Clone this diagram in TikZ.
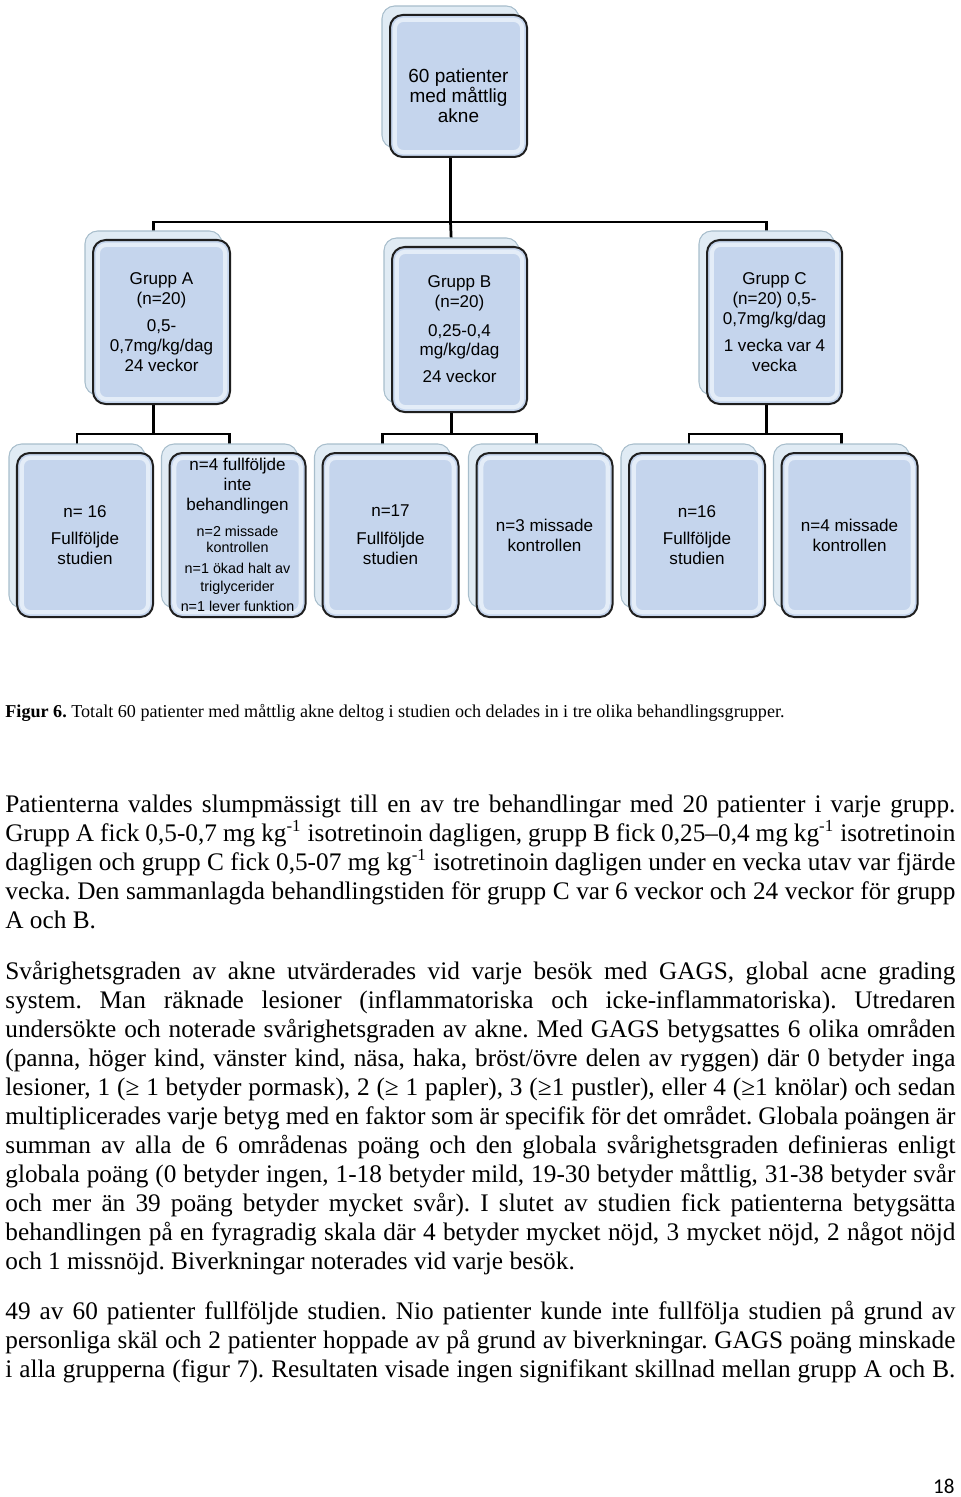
\documentclass[tikz,border=0pt]{standalone}
\usepackage{fontspec}
\setmainfont{Liberation Serif}
\newfontfamily\boxfont{Liberation Sans}
\newfontfamily\pagefont{Carlito}
\usetikzlibrary{calc,shadows,backgrounds}
\definecolor{boxblue}{RGB}{197,213,237}
\definecolor{boxrim}{RGB}{228,237,248}
\definecolor{backfill}{RGB}{224,235,244}
\definecolor{backline}{RGB}{168,190,204}
\newdimen\pu \pu=0.4747pt
\newcommand\smallbox{\fontsize{6.8}{7.8}\selectfont}
\frenchspacing

\begin{document}
\begin{tikzpicture}[
      x=\pu,y=-\pu,
      card/.style={draw=black!88, line width=0.95pt, fill=boxblue, rounded corners=6pt,
        minimum width=136\pu, minimum height=164\pu, inner sep=1pt, align=center,
        font=\boxfont\fontsize{8.1}{9.4}\selectfont,
        copy shadow={shadow xshift=-8\pu, shadow yshift=9\pu, fill=backfill, draw=backline, line width=0.5pt},
        path picture={\draw[boxrim, line width=2pt, rounded corners=4pt]
          ([shift={(2.3pt,2.3pt)}]path picture bounding box.south west) rectangle
          ([shift={(-2.3pt,-2.3pt)}]path picture bounding box.north east);}},
      conn/.style={draw=black, line width=1.3pt},
      para/.style={anchor=base west, inner sep=0pt, text width=950\pu, align=justify,
        font=\fontsize{12}{13.77}\selectfont,
        execute at begin node={\hyphenpenalty=10000\relax\exhyphenpenalty=10000\relax\tolerance=9999\relax}}
    ]
      \useasboundingbox (0,0) rectangle (960,1497);
      % flow chart
      \node[card, minimum width=137\pu, minimum height=142\pu, font=\boxfont\fontsize{9}{9.5}\selectfont] (top) at (458.5,86)
        {\rule{0pt}{16pt}60 patienter\\med måttlig\\akne};
      \node[card, minimum width=137\pu] (gA) at (161.5,322) {Grupp A\\(n=20)\\[3.8pt]0,5-\\0,7mg/kg/dag\\24 veckor};
      \node[card, minimum width=135\pu, minimum height=165\pu] (gB) at (459.5,329.5) {Grupp B\\(n=20)\\[4pt]0,25-0,4\\mg/kg/dag\\[3.4pt]24 veckor};
      \node[card, minimum width=135\pu] (gC) at (774.5,322) {Grupp C\\(n=20) 0,5-\\0,7mg/kg/dag\\[3.4pt]1 vecka var 4\\vecka};
      \node[card] (a1) at (85,535) {n= 16\\[3.8pt]Fullföljde\\studien};
      \node[card] (a2) at (237.5,535) {n=4 fullföljde\\inte\\behandlingen\\[2.9pt]\smallbox n=2 missade\\[-1.8pt]\smallbox kontrollen\\[1pt]\smallbox n=1 ökad halt av\\[-0.9pt]\smallbox triglycerider\\\smallbox n=1 lever funktion};
      \node[card] (b1) at (390.5,535) {n=17\\[3.8pt]Fullföljde\\studien};
      \node[card] (b2) at (544.5,535) {n=3 missade\\kontrollen};
      \node[card] (c1) at (697,535) {n=16\\[3.8pt]Fullföljde\\studien};
      \node[card] (c2) at (849.5,535) {n=4 missade\\kontrollen};
      \begin{scope}[on background layer]
        \coordinate (split) at ($(top.south)+(-8,64)$);
        \draw[conn] ($(top.south)+(-8,0)$) -- (split);
        \draw[conn] ($(gA.north)+(-8,0)$) |- (split) -| ($(gC.north)+(-8,0)$);
        \draw[conn] (split) -- ($(gB.north)+(-8,0)$);
        \foreach \g/\l/\r in {gA/a1/a2,gB/b1/b2,gC/c1/c2}{
          \path ($(\l.north)+(-8,-18)$) coordinate (hl) ($(\r.north)+(-8,-18)$) coordinate (hr)
            ($(\g.south)+(-8,0)$) coordinate (gs);
          \draw[conn] ($(\l.north)+(-8,0)$) -- (hl) -- (hr) -- ($(\r.north)+(-8,0)$);
          \draw[conn] (gs) -- (gs |- hl);
        }
      \end{scope}
      % caption and text
      \node[anchor=base west, inner sep=0pt, font=\fontsize{8.6}{10}\selectfont] (cap) at (5,717)
        {\textbf{Figur 6.} Totalt 60 patienter med måttlig akne deltog i studien och delades in i tre olika behandlingsgrupper.};
      \node[para] (p1) at (5,812) {Patienterna valdes slumpmässigt till en av tre behandlingar med 20 patienter i varje grupp.\linebreak
        Grupp A fick 0,5-0,7 mg kg\textsuperscript{-1} isotretinoin dagligen, grupp B fick 0,25–0,4 mg kg\textsuperscript{-1} isotretinoin\linebreak
        dagligen och grupp C fick 0,5-07 mg kg\textsuperscript{-1} isotretinoin dagligen under en vecka utav var fjärde\linebreak
        vecka. Den sammanlagda behandlingstiden för grupp C var 6 veckor och 24 veckor för grupp\linebreak
        A och B.};
      \node[para] (p2) at (5,979) {Svårighetsgraden av akne utvärderades vid varje besök med GAGS, global acne grading\linebreak
        system. Man räknade lesioner (inflammatoriska och icke-inflammatoriska). Utredaren\linebreak
        undersökte och noterade svårighetsgraden av akne. Med GAGS betygsattes 6 olika områden\linebreak
        (panna, höger kind, vänster kind, näsa, haka, bröst/övre delen av ryggen) där 0 betyder inga\linebreak
        lesioner, 1 (≥ 1 betyder pormask), 2 (≥ 1 papler), 3 (≥1 pustler), eller 4 (≥1 knölar) och sedan\linebreak
        multiplicerades varje betyg med en faktor som är specifik för det området. Globala poängen är\linebreak
        summan av alla de 6 områdenas poäng och den globala svårighetsgraden definieras enligt\linebreak
        globala poäng (0 betyder ingen, 1-18 betyder mild, 19-30 betyder måttlig, 31-38 betyder svår\linebreak
        och mer än 39 poäng betyder mycket svår). I slutet av studien fick patienterna betygsätta\linebreak
        behandlingen på en fyragradig skala där 4 betyder mycket nöjd, 3 mycket nöjd, 2 något nöjd\linebreak
        och 1 missnöjd. Biverkningar noterades vid varje besök.};
      \node[para] (p3) at (5,1319) {49 av 60 patienter fullföljde studien. Nio patienter kunde inte fullfölja studien på grund av\linebreak
        personliga skäl och 2 patienter hoppade av på grund av biverkningar. GAGS poäng minskade\linebreak
        i alla grupperna (figur 7). Resultaten visade ingen signifikant skillnad mellan grupp A och B.\unskip\parfillskip=0pt\relax\par};
      \node[anchor=base east, inner sep=0pt, font=\pagefont\fontsize{10}{12}\selectfont] (pnum) at (955,1493) {18};
    \end{tikzpicture}
\end{document}
